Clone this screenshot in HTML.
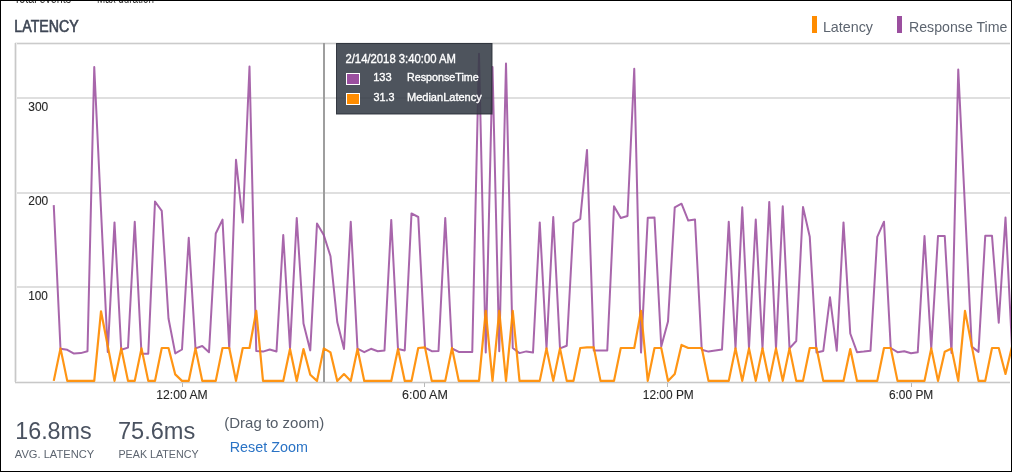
<!DOCTYPE html>
<html><head><meta charset="utf-8"><style>
html,body{margin:0;padding:0;background:#fff;}
body{width:1012px;height:472px;position:relative;overflow:hidden;font-family:"Liberation Sans",Arial,sans-serif;}
#frame{position:absolute;left:0;top:0;width:1010px;height:470px;border:1px solid #000;}
.t{position:absolute;white-space:nowrap;line-height:1;}
svg{position:absolute;left:0;top:0;}
</style></head><body>
<svg width="1012" height="472" viewBox="0 0 1012 472">
<defs><clipPath id="c"><rect x="15" y="40" width="996" height="345"/></clipPath></defs>
<line x1="15" y1="43.5" x2="1010" y2="43.5" stroke="#efefef" stroke-width="3" shape-rendering="crispEdges"/>
<line x1="15" y1="43.5" x2="1010" y2="43.5" stroke="#cbcbcb" stroke-width="1" shape-rendering="crispEdges"/>
<g stroke="#dfdfdf" stroke-width="2" shape-rendering="crispEdges">
<line x1="15" y1="98" x2="1010" y2="98"/>
<line x1="15" y1="193" x2="1010" y2="193"/>
<line x1="15" y1="287" x2="1010" y2="287"/>
</g>
<line x1="15.5" y1="43" x2="15.5" y2="382" stroke="#ebebeb" stroke-width="3" shape-rendering="crispEdges"/>
<line x1="15" y1="382.5" x2="1010" y2="382.5" stroke="#efefef" stroke-width="3" shape-rendering="crispEdges"/>
<g stroke="#c8c8c8" stroke-width="1" shape-rendering="crispEdges">
<line x1="15.5" y1="43" x2="15.5" y2="382"/>
<line x1="15" y1="382.5" x2="1010" y2="382.5"/>
</g>
<g stroke="#b8b8b8" stroke-width="1" shape-rendering="crispEdges">
<line x1="182.5" y1="383" x2="182.5" y2="387"/>
<line x1="424.5" y1="383" x2="424.5" y2="387"/>
<line x1="667.5" y1="383" x2="667.5" y2="387"/>
<line x1="911.5" y1="383" x2="911.5" y2="387"/>
</g>
<rect x="323" y="43" width="2" height="339" fill="#9e9e9e"/>
<g clip-path="url(#c)" fill="none" stroke-linejoin="round" stroke-linecap="butt">
<polyline stroke="#9b4f9f" stroke-opacity="0.87" stroke-width="2" points="53.75,205.1 60.50,348.8 67.25,349.8 74.00,353.6 80.75,353.1 87.50,351.3 94.25,67.0 101.00,210.0 107.75,352.0 114.50,222.4 121.25,349.8 128.00,347.6 134.75,221.7 141.50,353.7 148.25,353.7 155.00,201.5 161.75,210.9 168.50,318.5 175.25,353.4 182.00,349.5 188.75,237.7 195.50,348.4 202.25,346.0 209.00,352.2 215.75,233.5 222.50,219.6 229.25,348.4 236.00,159.8 242.75,222.5 249.50,66.5 256.25,351.0 263.00,351.6 269.75,349.5 276.50,351.5 283.25,235.0 290.00,348.4 296.75,218.0 303.50,323.5 310.25,350.4 317.00,223.5 323.75,235.0 330.50,256.3 337.25,322.0 344.00,349.0 350.75,221.7 357.50,348.7 364.25,352.2 371.00,348.8 377.75,351.2 384.50,350.4 391.25,219.9 398.00,349.1 404.75,350.4 411.50,213.4 418.25,217.0 425.00,347.6 431.75,351.2 438.50,351.0 445.25,218.0 452.00,348.5 458.75,351.9 465.50,351.9 472.25,351.9 479.00,53.7 485.75,352.4 492.50,67.0 499.25,351.2 506.00,63.4 512.75,348.0 519.50,353.1 526.25,351.4 533.00,352.6 539.75,222.4 546.50,348.4 553.25,217.0 560.00,348.4 566.75,345.8 573.50,223.0 580.25,218.8 587.00,149.9 593.75,350.4 600.50,350.4 607.25,350.5 614.00,206.2 620.75,218.0 627.50,216.0 634.25,68.8 641.00,352.6 647.75,217.7 654.50,217.5 661.25,346.5 668.00,321.6 674.75,207.3 681.50,203.7 688.25,220.6 695.00,219.5 701.75,349.8 708.50,351.6 715.25,350.6 722.00,349.5 728.75,221.7 735.50,348.4 742.25,207.3 749.00,348.4 755.75,219.5 762.50,348.4 769.25,201.9 776.00,348.4 782.75,206.2 789.50,348.4 796.25,341.0 803.00,207.0 809.75,236.8 816.50,352.5 823.25,351.0 830.00,297.3 836.75,350.7 843.50,222.4 850.25,333.5 857.00,352.2 863.75,351.6 870.50,350.7 877.25,236.8 884.00,221.7 890.75,348.0 897.50,352.2 904.25,351.2 911.00,353.3 917.75,352.2 924.50,236.0 931.25,348.4 938.00,236.0 944.75,236.0 951.50,353.0 958.25,69.5 965.00,208.0 971.75,346.6 978.50,351.9 985.25,235.8 992.00,235.8 998.75,322.7 1005.50,217.5 1012.25,352.0"/>
<polyline stroke="#ff8c00" stroke-opacity="0.92" stroke-width="2.2" points="53.75,380.9 60.50,348.4 67.25,380.9 74.00,380.9 80.75,380.9 87.50,380.9 94.25,380.9 101.00,311.3 107.75,346.0 114.50,380.9 121.25,348.4 128.00,380.9 134.75,380.9 141.50,348.4 148.25,380.9 155.00,380.9 161.75,348.0 168.50,348.0 175.25,374.4 182.00,380.9 188.75,380.9 195.50,348.4 202.25,380.9 209.00,380.9 215.75,380.9 222.50,348.0 229.25,348.0 236.00,380.9 242.75,348.0 249.50,348.0 256.25,310.9 263.00,380.9 269.75,380.9 276.50,380.9 283.25,380.9 290.00,349.0 296.75,380.9 303.50,349.0 310.25,374.7 317.00,380.9 323.75,348.4 330.50,352.4 337.25,380.9 344.00,374.1 350.75,380.9 357.50,349.0 364.25,380.9 371.00,380.9 377.75,380.9 384.50,380.9 391.25,380.9 398.00,349.0 404.75,380.9 411.50,380.9 418.25,348.0 425.00,347.4 431.75,380.9 438.50,380.9 445.25,380.9 452.00,348.0 458.75,380.9 465.50,380.9 472.25,380.9 479.00,380.9 485.75,310.9 492.50,380.9 499.25,310.9 506.00,380.9 512.75,310.9 519.50,380.9 526.25,380.9 533.00,380.9 539.75,380.9 546.50,348.4 553.25,380.9 560.00,348.4 566.75,380.9 573.50,380.9 580.25,348.0 587.00,347.4 593.75,347.4 600.50,380.9 607.25,380.9 614.00,380.9 620.75,348.0 627.50,348.0 634.25,348.0 641.00,310.9 647.75,380.9 654.50,348.0 661.25,348.0 668.00,380.9 674.75,374.0 681.50,344.9 688.25,348.0 695.00,348.0 701.75,348.0 708.50,380.9 715.25,380.9 722.00,380.9 728.75,380.9 735.50,348.4 742.25,380.9 749.00,348.4 755.75,380.9 762.50,348.4 769.25,380.9 776.00,348.4 782.75,380.9 789.50,348.4 796.25,380.9 803.00,380.9 809.75,348.0 816.50,348.0 823.25,380.9 830.00,380.9 836.75,380.9 843.50,380.9 850.25,349.0 857.00,380.9 863.75,380.9 870.50,380.9 877.25,380.9 884.00,348.0 890.75,348.0 897.50,380.9 904.25,380.9 911.00,380.9 917.75,380.9 924.50,380.9 931.25,348.4 938.00,380.9 944.75,351.8 951.50,348.4 958.25,380.9 965.00,310.9 971.75,345.9 978.50,380.9 985.25,380.9 992.00,348.0 998.75,348.0 1005.50,374.0 1012.25,345.5"/>
</g>
<rect x="336.5" y="43.5" width="155.5" height="70.5" fill="rgba(54,60,71,0.88)" stroke="rgba(40,44,54,0.9)" stroke-width="1"/>
<rect x="346.5" y="73.5" width="13" height="11" fill="#9b4f9f" stroke="#fff" stroke-width="1"/>
<rect x="346.5" y="93.5" width="13" height="11" fill="#ff8c00" stroke="#fff" stroke-width="1"/>
<rect x="812" y="16" width="5" height="17" fill="#ff8c00"/>
<rect x="897" y="16" width="5" height="17" fill="#9b4f9f"/>
</svg>
<svg width="1012" height="472" viewBox="0 0 1012 472" style="font-family:'Liberation Sans',Arial,sans-serif">
<text x="14" y="2.6" font-size="14" fill="#333" textLength="57" lengthAdjust="spacingAndGlyphs">Total events</text>
<text x="97" y="2.6" font-size="14" fill="#333" textLength="57" lengthAdjust="spacingAndGlyphs">Max duration</text>
<text x="14.37" y="31.60" font-size="15.75" stroke="#3e4654" stroke-width="0.6" fill="#3e4654" textLength="64.35" lengthAdjust="spacingAndGlyphs">LATENCY</text>
<text x="822.91" y="31.80" font-size="15" fill="#5d6570" textLength="50.13" lengthAdjust="spacingAndGlyphs">Latency</text>
<text x="908.92" y="31.60" font-size="15" fill="#5d6570" textLength="98.54" lengthAdjust="spacingAndGlyphs">Response Time</text>
<text x="28.27" y="111.00" font-size="12.5" stroke="#262626" stroke-width="0.1" fill="#262626" textLength="19.97" lengthAdjust="spacingAndGlyphs">300</text>
<text x="28.27" y="205.10" font-size="12.5" stroke="#262626" stroke-width="0.1" fill="#262626" textLength="19.97" lengthAdjust="spacingAndGlyphs">200</text>
<text x="28.26" y="300.30" font-size="12.5" stroke="#262626" stroke-width="0.1" fill="#262626" textLength="19.68" lengthAdjust="spacingAndGlyphs">100</text>
<text x="156.33" y="399.20" font-size="12.5" stroke="#262626" stroke-width="0.1" fill="#262626" textLength="51.31" lengthAdjust="spacingAndGlyphs">12:00 AM</text>
<text x="402.10" y="399.20" font-size="12.5" stroke="#262626" stroke-width="0.1" fill="#262626" textLength="45.66" lengthAdjust="spacingAndGlyphs">6:00 AM</text>
<text x="642.85" y="399.20" font-size="12.5" stroke="#262626" stroke-width="0.1" fill="#262626" textLength="50.91" lengthAdjust="spacingAndGlyphs">12:00 PM</text>
<text x="888.92" y="399.20" font-size="12.5" stroke="#262626" stroke-width="0.1" fill="#262626" textLength="44.34" lengthAdjust="spacingAndGlyphs">6:00 PM</text>
<text x="345.43" y="62.80" font-size="12" stroke="#fff" stroke-width="0.35" fill="#fff" textLength="110.58" lengthAdjust="spacingAndGlyphs">2/14/2018 3:40:00 AM</text>
<text x="373.17" y="80.80" font-size="11.5" stroke="#fff" stroke-width="0.35" fill="#fff" textLength="18.54" lengthAdjust="spacingAndGlyphs">133</text>
<text x="406.97" y="80.80" font-size="11.5" stroke="#fff" stroke-width="0.35" fill="#fff" textLength="71.71" lengthAdjust="spacingAndGlyphs">ResponseTime</text>
<text x="373.43" y="100.60" font-size="11.5" stroke="#fff" stroke-width="0.35" fill="#fff" textLength="21.03" lengthAdjust="spacingAndGlyphs">31.3</text>
<text x="406.94" y="100.60" font-size="11.5" stroke="#fff" stroke-width="0.35" fill="#fff" textLength="74.84" lengthAdjust="spacingAndGlyphs">MedianLatency</text>
<text x="15.20" y="438.50" font-size="24" fill="#4a5260" textLength="76.48" lengthAdjust="spacingAndGlyphs">16.8ms</text>
<text x="117.97" y="438.50" font-size="24" fill="#4a5260" textLength="77.32" lengthAdjust="spacingAndGlyphs">75.6ms</text>
<text x="14.80" y="458.40" font-size="11.5" fill="#5d6570" textLength="79.40" lengthAdjust="spacingAndGlyphs">AVG. LATENCY</text>
<text x="118.47" y="458.40" font-size="11.5" fill="#5d6570" textLength="80.13" lengthAdjust="spacingAndGlyphs">PEAK LATENCY</text>
<text x="224.20" y="427.60" font-size="15" fill="#555d68" textLength="100.14" lengthAdjust="spacingAndGlyphs">(Drag to zoom)</text>
<text x="229.70" y="452.20" font-size="15" fill="#2a73c5" textLength="78.21" lengthAdjust="spacingAndGlyphs">Reset Zoom</text>
</svg>
<div id="frame"></div>
</body></html>
